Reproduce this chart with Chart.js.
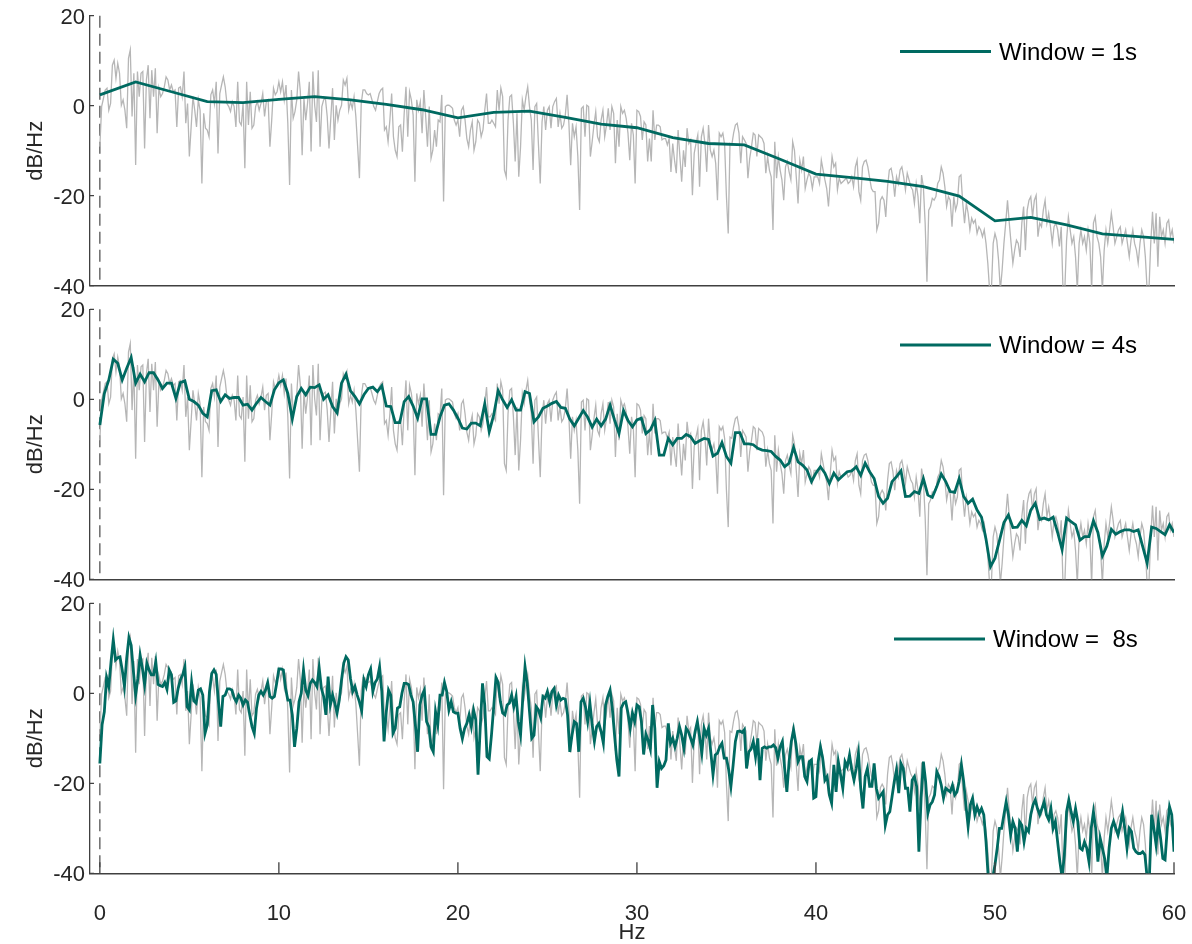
<!DOCTYPE html>
<html>
<head>
<meta charset="utf-8">
<script src="https://cdn.jsdelivr.net/npm/chart.js@4.4.1/dist/chart.umd.min.js"></script>
<style>
  body { margin: 0; background: #fff; }
  #wrap { position: relative; width: 1192px; height: 944px; }
  canvas { position: absolute; left: 0; }
</style>
</head>
<body>
<div id="wrap">
  <canvas id="p1" width="1192" height="297" style="top:0px"></canvas>
  <canvas id="p2" width="1192" height="295" style="top:297px"></canvas>
  <canvas id="p3" width="1192" height="352" style="top:592px"></canvas>
</div>
<script>
// tick values
var xTicks = [0, 10, 20, 30, 40, 50, 60];
var yTicks = [-40, -20, 0, 20];

// frequency steps (Hz) of each spectrum
var rawStep = 0.1;
var step1s = 2;
var step4s = 0.25;
var step8s = 0.125;

// raw periodogram (grey), 0..60 Hz
var rawPsd = [
  -9.1, -0.2, 1.6, 3.5, 3.9, -1.0, 0.5, 9.0, 10.1, 6.1,
  9.4, 7.2, 0.1, 1.3, -1.0, -5.0, 10.5, 12.4, -2.4, 7.2,
  -13.2, 7.6, 2.0, 7.2, 7.6, -9.5, 5.7, 9.0, -2.8, 7.9,
  2.0, 8.3, -6.1, 3.9, 2.0, 2.7, 4.2, 6.4, 5.7, 3.5,
  4.6, 3.1, 3.5, -4.7, 3.9, 4.2, 2.0, 7.6, -3.9, 0.5,
  -11.3, -4.7, 2.0, -1.0, -4.7, 1.3, -1.0, -17.3, -1.7, -5.0,
  -5.4, -6.9, 2.4, 3.5, 0.5, 5.3, -10.6, 2.7, 4.6, 6.4,
  4.2, 0.5, -0.2, -1.3, 0.9, -0.2, -4.7, 5.3, -3.6, -4.3,
  0.5, -13.9, 5.3, -4.3, 3.1, -5.0, -4.3, -0.2, 0.9, -1.0,
  0.5, 2.7, -2.4, 0.9, 1.3, -9.1, -3.2, 3.9, 2.4, 3.1,
  5.3, 3.1, 5.3, 1.3, 4.6, -3.9, -17.6, 3.5, -2.8, -1.3,
  1.3, 7.6, 3.1, -11.0, 1.6, -3.2, 0.5, 5.3, -10.2, 7.6,
  0.1, -3.6, 7.9, -9.1, -0.2, 1.3, 1.6, -2.4, -9.5, -2.8,
  3.9, -7.6, 0.1, -3.2, -1.0, 0.1, 5.7, 4.6, 6.1, -1.0,
  0.9, -0.6, 2.0, -2.4, -9.1, -16.1, 0.5, 3.5, 3.5, 2.7,
  2.4,
  2.7, 1.3, -0.2, -1.0, 0.9, 2.7, 3.5, 3.9, -5.4, -4.7,
  -8.0, -3.2, 2.7, -6.9, -9.9, -11.3, -4.7, -4.3, -10.2, -1.7,
  4.2, -6.9, 3.1, 1.3, -2.1, -16.9, 1.3, -1.0, 0.9, -6.1,
  3.5, -2.4, -9.1, -0.2, -11.7, -9.9, -5.4, -9.1, -3.2, -3.6,
  2.4, -21.3, -0.2, 0.1, 0.1, -0.2, -0.6, -3.2, -4.3, -3.2,
  -6.9, -1.0, -0.2, -3.2, -7.3, -9.1, -5.4, -3.6, -9.9, -8.0,
  -3.2, -3.9, -6.9, -5.4, -1.0, 2.7, -3.9, -3.9, -3.2, -3.9,
  -4.7, 3.5, -1.0, 3.9, 2.0, -14.3, -15.8, -3.2, 2.0, 2.4,
  -3.9, -12.4, -1.7, -15.8, -9.1, 1.3, -1.0, 2.0, 4.2, -0.2,
  -3.2, -14.3, -0.2, 0.5, -8.7, -17.3, -3.6, -0.2, -5.4, -1.0,
  -0.2, -5.0, -0.2, 0.9, 1.6, -4.7, -1.7, -5.0, -4.3, -2.1,
  2.4, -3.9, -13.2, -3.9, -6.9, -4.7, -11.3, -23.2, -0.6, -0.2,
  -6.9, 0.1, -0.2, -11.3, -8.0, -4.3, -1.3, -6.9, -8.0, -3.2,
  -1.0, -6.9, -4.3, -0.6, -5.4, -0.2, -1.7, -12.8, -3.2, -9.1,
  -0.2, -1.7, -1.0, -2.8, -6.1, -12.1, -3.9, -6.5, -17.3, -1.0,
  -1.3, -2.4, -7.6, -3.6, -4.3, -12.4, -7.3, -12.4, -1.0, -7.6,
  -4.3, -4.3, -4.7, -7.6, -7.3, -7.3, -8.7, -7.3, -14.7, -8.4,
  -12.1, -15.0, -5.4, -11.3, -16.9, -9.9, -13.6, -5.0, -8.4, -7.6,
  -19.9, -10.6, -8.4, -6.5, -18.0, -6.9, -5.0, -8.4, -14.7, -4.3,
  -9.9, -11.3, -9.9, -12.8, -21.0, -6.1, -6.9, -6.1, -8.7, -20.2,
  -28.4, -8.4, -8.7, -6.1, -4.3, -3.9, -6.1, -12.8, -6.9, -7.6,
  -8.4, -16.1, -11.7, -9.1, -6.1, -6.5, -11.3, -6.5, -6.9, -7.3,
  -8.4, -15.0, -11.3, -14.3, -15.8, -27.6, -8.0, -16.1, -11.3, -14.3,
  -16.5, -21.0, -13.6, -12.4, -14.7, -16.5, -8.0, -9.9, -15.8, -21.7,
  -12.1, -14.3, -11.3, -18.4, -16.5, -15.0, -15.8, -18.4, -15.8, -15.8,
  -15.8, -17.3, -12.1, -14.3, -16.5, -18.4, -22.4, -16.5, -11.3, -13.6,
  -12.8, -18.7, -16.1, -17.3, -16.9, -16.5, -16.1, -17.3, -16.9, -15.8,
  -18.0, -13.6, -12.1, -19.1, -21.0, -13.6, -12.4, -12.1, -13.6, -16.1,
  -18.4, -19.1, -19.1, -27.6, -26.1, -21.0, -20.2, -21.0, -24.7, -18.0,
  -14.3, -13.9, -16.1, -20.2, -15.8, -17.3, -14.3, -13.6, -15.8, -18.7,
  -15.0, -16.5, -18.0, -18.7, -21.7, -17.3, -20.2, -26.1, -15.4, -18.0,
  -26.1, -39.1, -23.2, -22.4, -20.6, -21.0, -20.2, -17.3, -16.5, -13.6,
  -15.0, -18.0, -22.4, -20.2, -21.0, -26.9, -20.2, -23.2, -21.7, -15.8,
  -15.4, -21.7, -26.1, -21.7, -23.9, -27.6, -25.0, -26.1, -25.4, -28.4,
  -26.9, -27.6, -29.1, -27.6, -30.6, -35.0, -41, -41, -30.6, -28.4,
  -29.9, -34.3, -41, -36.5, -30.6, -26.1, -21.0, -26.1, -30.6, -35.0,
  -32.1, -29.9, -30.6, -33.6, -26.1, -22.4, -32.1, -23.2, -21.0, -20.2,
  -24.7, -21.0, -19.9, -29.1, -26.1, -26.9, -23.2, -21.0, -26.1, -23.9,
  -26.9, -30.6, -26.9, -26.1, -27.6, -31.3, -26.9, -41, -41, -29.9,
  -24.7, -27.6, -30.6, -29.1, -33.6, -41, -30.6, -27.6, -30.6, -29.1,
  -32.1, -27.6, -30.6, -41, -26.1, -24.7, -29.1, -30.6, -33.6, -41,
  -32.1, -27.6, -30.6, -27.6, -23.9, -26.9, -30.6, -29.1, -27.6, -26.9,
  -30.6, -29.1, -27.6, -30.6, -33.6, -29.9, -27.6, -30.6, -32.1, -35.0,
  -30.6, -27.6, -29.1, -33.6, -41, -41, -30.6, -23.6, -30.6, -23.9,
  -35.8, -24.7, -29.1, -27.6, -30.6, -26.1, -25.4, -29.1, -27.6, -30.6
];

// Welch estimate, 1 s window
var psd1s = [2.4, 5.3, 3.1, 0.9, 0.7, 1.4, 2.0, 1.3, 0.3, -0.9, -2.7, -1.5, -1.2, -2.6, -4.1, -4.9,
  -7.1, -8.4, -8.7, -11.9, -15.2, -16.0, -16.8, -18.0, -20.1, -25.6, -24.8, -26.5, -28.5, -29.1, -29.7];

// Welch estimate, 4 s window
var psd4s = [
  -5.7, 1.3, 4.3, 8.9, 8.0, 4.3, 6.9, 9.3, 3.6, 5.6, 3.9, 5.9, 5.9, 4.3, 2.4, 3.6, 3.6, 0.2, 3.7, 4.1,
  0, -0.5, -1.3, -3.1, -3.9, 1.9, 2.1, -0.5, 1.0, 0.2, 0.4, 0.4, -1.3, -1.1, -2.4, -0.9, 0.4, -0.5, -1.3, 2.1,
  3.7, 4.3, 1.3, -4.4, 0.6, 2.4, 1.0, 2.7, 2.6, 3.2, 0, 1.0, -1.6, -3.0, 3.6, 5.6, 1.9, 0.6, -1.0, 1.0,
  2.4,
  2.7, 1.7, 3.0, -1.5, -1.6, -5.2, -5.2, -0.5, 0.6, -1.5, -4.2, 0.1, 0.1, -7.8, -7.8, -3.9, -1.3, -1.0, -2.4, -4.2,
  -6.4, -6.6, -5.3, -5.3, -5.9, -1.0, -7.2, -3.5, 1.9, -0.1, -1.8, -0.1, -2.4, -2.4, 1.7, 1.3, -5.0, -3.9, -2.0, -1.5,
  -0.9, -0.5, -1.8, -2.0, -4.4, -5.9, -4.2, -2.5, -4.0, -6.2, -4.4, -5.9, -4.4, -1.3, -4.6, -7.6, -2.5, -4.7, -6.1, -4.6,
  -4.2, -7.6, -6.8, -4.7, -12.4, -12.4, -8.7, -10.1, -8.7, -8.7, -7.8, -8.3, -9.8, -9.2, -8.7, -8.9, -12.6, -12.0, -9.6, -12.7,
  -14.2, -7.4, -7.4, -9.9, -9.9, -10.1, -10.9, -11.3, -11.4, -11.6, -12.7, -13.5, -15.0, -14.2, -10.7, -13.9, -14.6, -15.7, -18.3, -16.4,
  -15.0, -16.4, -18.7, -16.4, -17.9, -17.0, -16.1, -15.9, -15.0, -16.9, -14.2, -16.1, -17.6, -21.6, -23.1, -22.0, -18.3, -17.2, -15.9, -21.6,
  -21.5, -20.5, -20.9, -17.6, -21.3, -21.8, -19.4, -16.6, -18.3, -20.5, -20.7, -17.6, -21.6, -23.1, -22.2, -24.6, -26.2, -31.1, -37.2, -35.3,
  -31.4, -27.4, -25.7, -28.5, -28.4, -26.9, -28.1, -24.6, -23.1, -26.7, -26.4, -26.8, -26.2, -29.6, -33.4, -26.4, -27.2, -27.9, -31.3, -30.5,
  -30.5, -27.0, -29.6, -34.8, -32.6, -28.9, -30.0, -29.4, -29.0, -29.0, -29.4, -29.0, -32.7, -36.4, -28.4, -28.7, -29.4, -30.1, -27.9, -29.6
];

// Welch estimate, 8 s window
var psd8s = [
  -15.6, -7.0, -4.1, 3.5, 1.5, 7.0, 11.9, 7.4, 7.9, 8.1,
  5.2, 1.5, 7.8, 12.4, 10.7, 4.8, -0.4, 3.3, 8.5, 5.6,
  1.9, 6.7, 5.2, 4.1, 4.1, 7.0, 2.0, 1.7, 1.5, 2.4,
  0.9, 5.2, 4.1, -2.0, -1.7, 1.1, 3.0, 4.1, 5.9, -3.0,
  -3.7, 2.4, -1.7, -2.2, 0.7, 1.0, -0.4, -8.9, -7.0, 0.4,
  4.4, 5.2, 4.2, -1.9, -7.4, -0.7, -0.4, 1.0, 1.0, 0.7,
  -1.0, -1.9, -0.4, -1.1, -2.6, -1.5, -2.0, -4.8, -7.4, -8.9,
  -3.3, -0.4, 0.4, -0.4, 0.7, 2.4, -0.7, -1.1, -0.7, 2.2,
  5.4, 5.4, 5.2, 1.1, -1.5, -1.5, -4.8, -11.9, -7.8, -1.9,
  0, 5.2, 0.7, -0.5, 2.2, 3.0, 2.4, 1.5, 5.7, 1.1,
  -0.7, -4.8, 3.7, -2.6, -0.4, -2.2, -4.4, -1.5, 3.0, 6.7,
  8.1, 7.4, 3.3, 0.4, 1.5, -0.4, -1.9, -3.9, 3.0, 1.5,
  4.1,
  5.4, 0.4, 2.4, 3.2, 5.9, 0.4, -10.7, -4.1, 0.7,
  -0.4, -8.9, -7.8, -3.3, -3.0, 0, 2.2, 2.2, 1.9, -0.4,
  -1.9, -7.0, -13.0, -2.6, -0.4, 0.7, -6.3, -7.4, -11.9, -13.0,
  -4.1, -7.0, -0.4, -0.4, 2.4, 0.4, -3.7, -1.9, -4.1, -4.4,
  -4.4, -7.8, -10.1, -7.8, -6.7, -4.8, -7.4, -3.7, -5.9, -18.1,
  -7.4, 2.2, -2.6, -14.1, -14.6, -9.3, -3.0, 3.5, 2.4, -1.9,
  -4.4, -4.8, -2.6, -2.2, -0.4, -3.0, -0.7, -6.3, -9.3, -1.1,
  5.9, 2.2, -4.1, -10.0, -9.3, -3.0, -3.7, -5.4, -0.7, -1.1,
  0.4, -1.9, 0.4, 1.1, -2.6, -0.4, -1.5, -1.1, -1.3, -4.8,
  -13.0, -9.3, -6.3, -6.7, -13.0, -1.9, -1.1, -3.0, -6.3, -2.2,
  -7.0, -10.7, -7.4, -6.7, -8.5, -11.1, -2.6, -0.7, 0.7, -3.3,
  -9.3, -14.8, -18.5, -3.3, -2.2, -1.9, -4.4, -7.8, -4.4, -6.3,
  -2.6,
  -3.0, -6.3, -13.6, -9.1, -10.4, -12.4, -2.6, -7.8, -21.0, -15.2,
  -16.7, -16.1, -14.8, -6.7, -11.1, -10.0, -11.9, -10.0, -7.4, -9.3,
  -12.2, -7.8, -8.5, -10.0, -11.5, -8.5, -6.3, -9.6, -13.3, -7.8,
  -9.3, -7.8, -13.0, -18.1, -13.7, -13.3, -11.9, -11.1, -14.4, -14.4,
  -17.0, -20.7, -15.9, -10.7, -8.5, -8.4, -8.7, -8.1, -16.7, -13.0,
  -12.4, -10.7, -14.1, -10.0, -19.3, -12.2, -11.9, -12.2, -11.9, -11.9,
  -11.5, -12.1, -14.4, -11.9, -10.7, -16.7, -21.9, -15.2, -10.7, -8.1,
  -11.1, -15.2, -14.1, -14.1, -18.5, -19.6, -15.2, -14.8, -23.3, -23.0,
  -15.2, -11.9, -14.4, -19.3, -18.5, -22.6, -24.4, -15.9, -21.9, -15.2,
  -18.1, -21.1, -15.2, -16.3, -13.7, -17.0, -19.3, -16.7, -13.3, -21.1,
  -25.6, -18.5, -16.7, -20.7, -20.7, -15.6, -21.1, -23.3, -22.6, -21.9,
  -29.3, -27.0, -26.3, -23.0, -19.6, -17.0, -22.2, -15.6, -16.7, -21.1,
  -21.1, -26.3, -19.3, -18.5, -20.7, -35.2, -23.3, -15.2, -19.6, -26.7,
  -24.8, -24.1, -22.6, -17.4, -18.5, -20.4, -23.3, -21.1, -21.5, -21.9,
  -20.4, -22.6, -21.9, -19.6, -15.9, -19.6, -24.8, -29.6, -24.8, -23.3,
  -27.0, -25.2, -26.7, -25.6, -27.0, -33.0, -41, -41, -41, -38.1,
  -34.4, -30.0, -30.0, -27.0, -24.1, -27.0, -31.5, -28.5, -30.0, -35.2,
  -28.5, -29.3, -33.0, -30.0, -30.7, -27.0, -24.8, -23.7, -25.6, -27.0,
  -25.6, -24.1, -27.0, -28.1, -25.6, -30.0, -28.5, -33.0, -37.4, -41,
  -35.9, -26.3, -23.7, -26.3, -28.5, -25.6, -28.5, -34.4, -34.8, -33.0,
  -34.4, -37.4, -30.0, -26.3, -30.0, -37.4, -32.2, -34.4, -36.7, -41,
  -34.4, -30.0, -28.5, -30.0, -31.5, -29.3, -26.3, -30.0, -34.4, -30.0,
  -30.7, -34.4, -35.2, -35.6, -35.6, -35.2, -35.9, -41, -41, -27.0,
  -30.0, -33.7, -28.5, -32.2, -36.7, -37.0, -30.0, -25.2, -27.0, -35.2
];

var legendNames = ['Window = 1s', 'Window = 4s', 'Window =  8s'];

var TEAL = 'rgb(0,106,97)';
var GREY = 'rgb(182,182,182)';
var AXIS = 'rgb(64,64,64)';
var TEXT = 'rgb(38,38,38)';
Chart.defaults.font.family = "'Liberation Sans', Arial, sans-serif";
Chart.defaults.color = TEXT;

function toPoints(values, step) {
  var pts = [];
  for (var i = 0; i < values.length; i++) {
    pts.push({ x: i * step, y: values[i] });
  }
  return pts;
}

// dashed line at 0 Hz, inward ticks and the legend
var panelExtras = {
  id: 'panelExtras',
  beforeDatasetsDraw: function (chart) {
    var ctx = chart.ctx;
    var area = chart.chartArea;
    var x0 = chart.scales.x.getPixelForValue(0);
    ctx.save();
    ctx.strokeStyle = 'rgb(85,85,85)';
    ctx.lineWidth = 1.3;
    ctx.setLineDash([12, 6]);
    ctx.beginPath();
    ctx.moveTo(x0, area.top);
    ctx.lineTo(x0, area.bottom);
    ctx.stroke();
    ctx.restore();
  },
  afterDraw: function (chart, args, opts) {
    var ctx = chart.ctx;
    var area = chart.chartArea;
    ctx.save();
    ctx.strokeStyle = AXIS;
    ctx.lineWidth = 1.3;
    ctx.beginPath();
    yTicks.forEach(function (v) {
      var y = chart.scales.y.getPixelForValue(v);
      ctx.moveTo(area.left, y);
      ctx.lineTo(area.left + 4, y);
    });
    if (opts.bottom) {
      xTicks.forEach(function (v) {
        var x = chart.scales.x.getPixelForValue(v);
        ctx.moveTo(x, area.bottom);
        ctx.lineTo(x, area.bottom - 11);
      });
    }
    ctx.stroke();

    // legend
    ctx.strokeStyle = TEAL;
    ctx.lineWidth = 3;
    ctx.beginPath();
    ctx.moveTo(opts.lx0, opts.ly);
    ctx.lineTo(opts.lx1, opts.ly);
    ctx.stroke();
    ctx.fillStyle = 'rgb(0,0,0)';
    ctx.font = "24px 'Liberation Sans', Arial, sans-serif";
    ctx.textBaseline = 'middle';
    ctx.fillText(opts.text, opts.tx, opts.ly + 1.5);
    ctx.restore();
  }
};

function makePanel(id, series, step, pad, extra, bottom) {
  var tickFont = { size: 22 };
  return new Chart(document.getElementById(id), {
    type: 'line',
    data: {
      datasets: [
        { data: toPoints(series, step), borderColor: TEAL, borderWidth: 2.8, pointRadius: 0, tension: 0 },
        { data: toPoints(rawPsd, rawStep), borderColor: GREY, borderWidth: 1.3, pointRadius: 0, tension: 0 }
      ]
    },
    options: {
      responsive: false,
      animation: false,
      events: [],
      layout: { padding: pad },
      plugins: {
        legend: { display: false },
        tooltip: { enabled: false },
        panelExtras: extra
      },
      scales: {
        x: {
          type: 'linear',
          min: -0.55,
          max: 60,
          afterBuildTicks: function (s) { s.ticks = xTicks.map(function (v) { return { value: v }; }); },
          grid: { display: false, drawTicks: false },
          border: { display: true, color: AXIS, width: 1.5 },
          ticks: { display: bottom, padding: 27, font: tickFont, maxRotation: 0 },
          title: { display: bottom, text: 'Hz', font: { size: 22, lineHeight: 1 }, padding: 0 },
          afterFit: function (s) {
            s.height = bottom ? 70.7 : 0;
            s.paddingLeft = 0;
            s.paddingRight = 0;
          }
        },
        y: {
          min: -40,
          max: 20,
          afterBuildTicks: function (s) { s.ticks = yTicks.map(function (v) { return { value: v }; }); },
          grid: { display: false, drawTicks: false },
          border: { display: true, color: AXIS, width: 1.3 },
          ticks: { padding: 5, font: tickFont, labelOffset: 2 },
          title: { display: true, text: 'dB/Hz', font: { size: 22, lineHeight: 1 }, padding: { top: 25, bottom: 0 } },
          afterFit: function (s) {
            s.width = 90;
            s.paddingTop = 0;
            s.paddingBottom = 0;
          }
        }
      }
    },
    plugins: [panelExtras]
  });
}

makePanel('p1', psd1s, step1s, { left: 0, right: 18, top: 15.7, bottom: 11.3 },
  { text: legendNames[0], lx0: 900, lx1: 991, ly: 51.5, tx: 999, bottom: false }, false);
makePanel('p2', psd4s, step4s, { left: 0, right: 18, top: 12.3, bottom: 12.7 },
  { text: legendNames[1], lx0: 900, lx1: 991, ly: 48, tx: 999, bottom: false }, false);
makePanel('p3', psd8s, step8s, { left: 0, right: 18, top: 11.3, bottom: 0 },
  { text: legendNames[2], lx0: 894, lx1: 985, ly: 47, tx: 993, bottom: true }, true);
</script>
</body>
</html>
